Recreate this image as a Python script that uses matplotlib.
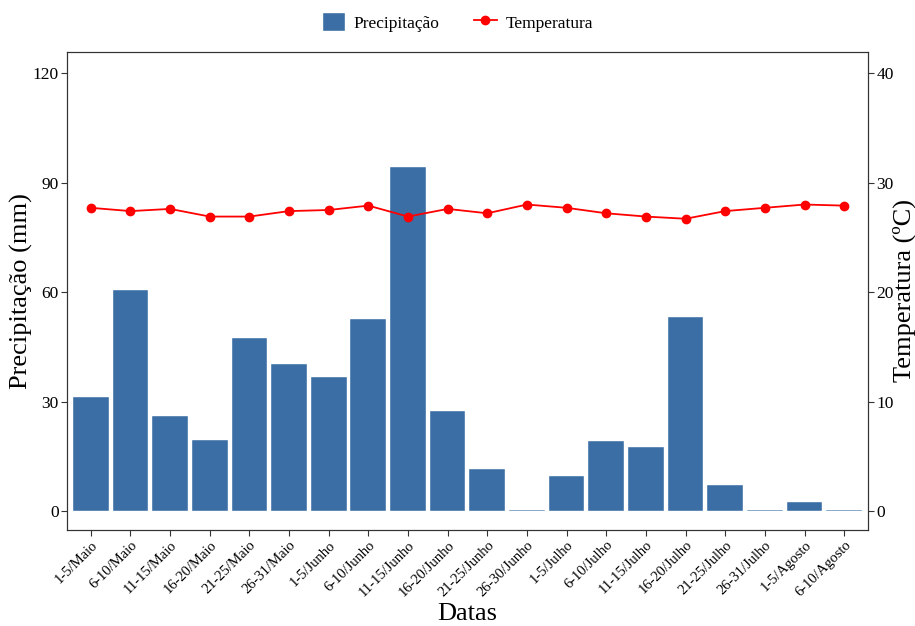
import matplotlib
matplotlib.use("Agg")
from matplotlib import pyplot as plt
from matplotlib.lines import Line2D
from matplotlib.patches import Patch

# Dados
datas = ["1-5/Maio", "6-10/Maio", "11-15/Maio", "16-20/Maio", "21-25/Maio",
         "26-31/Maio", "1-5/Junho", "6-10/Junho", "11-15/Junho", "16-20/Junho",
         "21-25/Junho", "26-30/Junho", "1-5/Julho", "6-10/Julho", "11-15/Julho",
         "16-20/Julho", "21-25/Julho", "26-31/Julho", "1-5/Agosto", "6-10/Agosto"]
precipitacao = [31.3, 60.5, 26.1, 19.5, 47.4, 40.2, 36.7, 52.5, 94.4, 27.4,
                11.6, 0.4, 9.6, 19.3, 17.6, 53.2, 7.2, 0.4, 2.6, 0.15]
temperatura = [27.7, 27.4, 27.6, 26.9, 26.9, 27.4, 27.5, 27.9, 26.9, 27.6,
               27.2, 28.0, 27.7, 27.2, 26.9, 26.7, 27.4, 27.7, 28.0, 27.9]

plt.rcParams["font.family"] = ["Liberation Serif", "DejaVu Serif"]

fig = plt.figure(figsize=(9.15, 6.26), dpi=100)
ax = fig.add_axes([0.0732, 0.1534, 0.8754, 0.7635])
x = list(range(len(datas)))

ax.bar(x, precipitacao, width=0.9, color="#3A6EA5", edgecolor="white", linewidth=0.3)
ax.set_xlim(-0.6, len(datas) - 0.4)
ax.set_ylim(-5.2, 125.8)
ax.set_yticks([0, 30, 60, 90, 120])
ax.set_xticks(x)
ax.set_xticklabels(datas, rotation=45, ha="right", rotation_mode="anchor")
ax.set_xlabel("Datas", fontsize=19)
ax.set_ylabel("Precipitação (mm)", fontsize=19)
ax.xaxis.set_label_coords(0.5, -0.153)
ax.yaxis.set_label_coords(-0.043, 0.5)

ax2 = ax.twinx()
ax2.plot(x, temperatura, color="#FF0000", marker="o", markersize=6, linewidth=1.3)
ax2.set_ylim(-5.2 / 3, 125.8 / 3)
ax2.set_yticks([0, 10, 20, 30, 40])
ax2.set_ylabel("Temperatura (ºC)", fontsize=19)
ax2.yaxis.set_label_coords(1.031, 0.5)

for a in (ax, ax2):
    a.tick_params(labelsize=12.5, length=4, color="#333333", labelcolor="black", pad=2)
    for s in a.spines.values():
        s.set_color("#333333")
        s.set_linewidth(0.8)
ax.tick_params(axis="x", labelsize=10.5)

handles = [Patch(facecolor="#3A6EA5", edgecolor="white"),
           Line2D([0], [0], color="#FF0000", marker="o", markersize=6, linewidth=1.3)]
fig.legend(handles, ["Precipitação", "Temperatura"], loc="upper center",
           bbox_to_anchor=(0.5, 1.005), ncol=2, frameon=False, fontsize=12.5,
           handlelength=1.3, handleheight=1.3, columnspacing=2.0, handletextpad=0.5)

fig.savefig("out.png", dpi=100)
